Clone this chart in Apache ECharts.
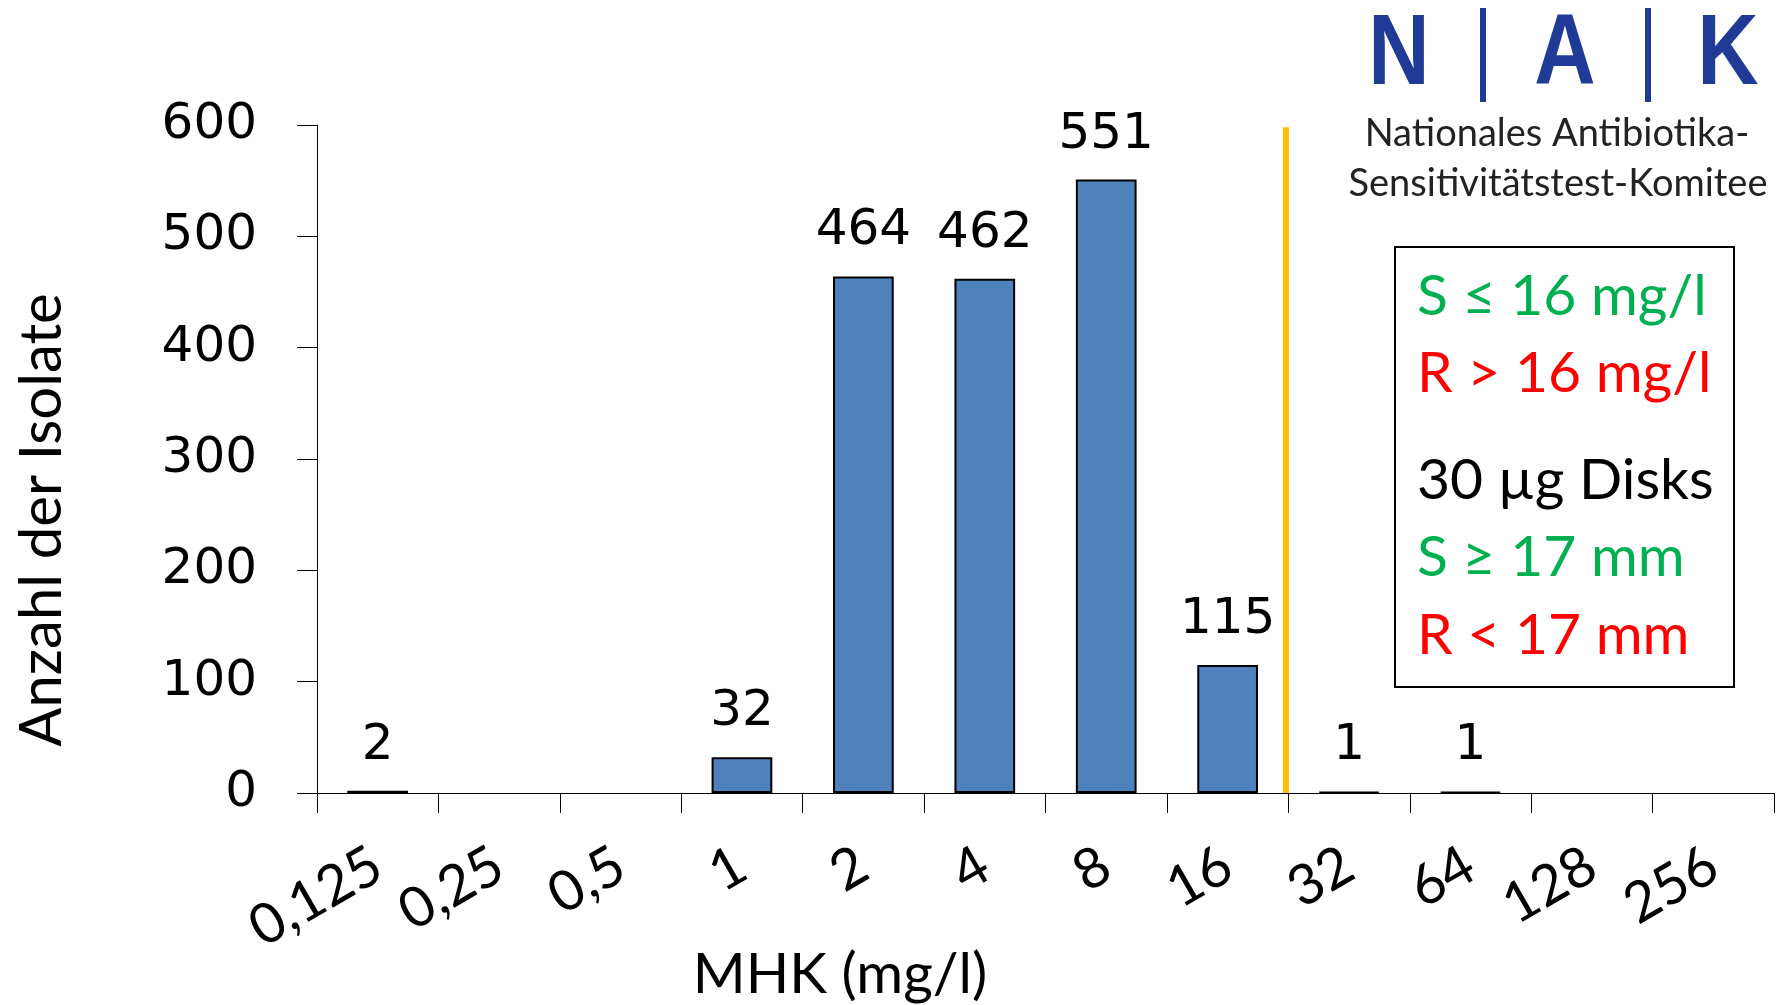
<!DOCTYPE html>
<html>
<head>
<meta charset="utf-8">
<script src="https://cdn.jsdelivr.net/npm/echarts@6/dist/echarts.min.js"></script>
<style>
  html, body { margin: 0; padding: 0; background: #fff; }
  #chart { width: 1783px; height: 1005px; }
</style>
</head>
<body>
<div id="chart"></div>
<script>
// MHK categories (mg/l) and isolate counts
const mhkLabels = ['0,125', '0,25', '0,5', '1', '2', '4', '8', '16', '32', '64', '128', '256']
const isolateCounts = [2, 0, 0, 32, 464, 462, 551, 115, 1, 1, 0, 0]
const yTicks = { min: 0, max: 600, step: 100 }
// breakpoint line between 16 and 32 (category boundary), top value
const breakpointPos = 7.98
const breakpointTop = 598
const legendLines = [
  { text: 'S ≤ 16 mg/l', color: '#00B050' },
  { text: 'R > 16 mg/l', color: '#FF0000' },
  { text: '30 µg Disks', color: '#000000' },
  { text: 'S ≥ 17 mm', color: '#00B050' },
  { text: 'R < 17 mm', color: '#FF0000' }
]

const chart = echarts.init(document.getElementById('chart'))
const numFont = 'DejaVu Sans'
const txtFont = 'Lato'
const legendY = [297, 374, 481, 558, 636]
const logoBlue = '#1F3B95'

const option = {
  animation: false,
  backgroundColor: '#fff',
  grid: { left: 317, right: 9, top: 125, bottom: 212 },
  xAxis: [
    {
      type: 'category',
      data: mhkLabels,
      axisLine: { lineStyle: { color: '#000', width: 1 } },
      axisTick: { show: true, interval: 0, length: 20, lineStyle: { color: '#000' } },
      axisLabel: {
        interval: 0,
        rotate: 30,
        margin: 68,
        color: '#000',
        fontFamily: txtFont,
        fontSize: 56
      }
    },
    { type: 'value', min: 0, max: mhkLabels.length, show: false }
  ],
  yAxis: {
    type: 'value',
    min: yTicks.min,
    max: yTicks.max,
    interval: yTicks.step,
    splitLine: { show: false },
    axisLine: { show: true, lineStyle: { color: '#000', width: 1 } },
    axisTick: { show: true, length: 20, lineStyle: { color: '#000' } },
    axisLabel: { margin: 60, color: '#000', fontFamily: numFont, fontSize: 50 }
  },
  series: [
    {
      type: 'bar',
      // empty classes are not drawn at all
      data: isolateCounts.map(v => (v ? v : '-')),
      barWidth: '50%',
      itemStyle: { color: '#4F81BD', borderColor: '#000', borderWidth: 2 },
      label: {
        show: true,
        position: 'top',
        distance: 20,
        color: '#000',
        fontFamily: numFont,
        fontSize: 50
      }
    },
    {
      type: 'line',
      xAxisIndex: 1,
      data: [[breakpointPos, 0], [breakpointPos, breakpointTop]],
      symbol: 'none',
      silent: true,
      lineStyle: { color: '#FFC000', width: 6 }
    }
  ],
  graphic: [
    // axis titles
    {
      type: 'text', x: 42, y: 520, rotation: Math.PI / 2,
      style: { text: 'Anzahl der Isolate', font: '58px Lato', fill: '#000', align: 'center', verticalAlign: 'middle' }
    },
    {
      type: 'text', x: 840, y: 975,
      style: { text: 'MHK (mg/l)', font: '57px Lato', fill: '#000', align: 'center', verticalAlign: 'middle' }
    },
    // breakpoint box
    {
      type: 'rect',
      shape: { x: 1395, y: 247, width: 339, height: 440 },
      style: { fill: '#fff', stroke: '#000', lineWidth: 2 }
    }
  ].concat(legendLines.map((l, i) => ({
    type: 'text', x: 1417, y: legendY[i],
    style: { text: l.text, font: '57px Lato', fill: l.color, align: 'left', verticalAlign: 'middle' }
  }))).concat([
    // NAK logo
    { type: 'text', x: 1399, y: 56, scaleX: 0.85, style: { text: 'N', font: 'bold 100px "Liberation Sans"', fill: logoBlue, align: 'center', verticalAlign: 'middle' } },
    { type: 'text', x: 1565, y: 56, scaleX: 0.85, style: { text: 'A', font: 'bold 100px "Liberation Sans"', fill: logoBlue, align: 'center', verticalAlign: 'middle' } },
    { type: 'text', x: 1728, y: 56, scaleX: 0.85, style: { text: 'K', font: 'bold 100px "Liberation Sans"', fill: logoBlue, align: 'center', verticalAlign: 'middle' } },
    { type: 'rect', shape: { x: 1480, y: 8, width: 6, height: 94 }, style: { fill: logoBlue } },
    { type: 'rect', shape: { x: 1645, y: 8, width: 6, height: 94 }, style: { fill: logoBlue } },
    { type: 'text', x: 1557, y: 134, style: { text: 'Nationales Antibiotika-', font: '38px Lato', fill: '#222', align: 'center', verticalAlign: 'middle' } },
    { type: 'text', x: 1558, y: 184, style: { text: 'Sensitivitätstest-Komitee', font: '38px Lato', fill: '#222', align: 'center', verticalAlign: 'middle' } }
  ])
}

chart.setOption(option)
</script>
</body>
</html>
